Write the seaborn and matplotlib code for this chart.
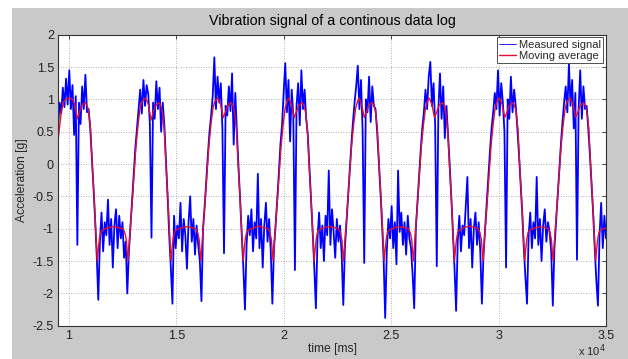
import numpy as np
import pandas as pd
import matplotlib
matplotlib.use("Agg")
import matplotlib.pyplot as plt
from matplotlib.patches import Rectangle
from matplotlib.ticker import FuncFormatter
import seaborn as sns

# ---------------- data ----------------
title = "Vibration signal of a continous data log"
x_label = "time [ms]"
y_label = "Acceleration [g]"
series_names = ["Measured signal", "Moving average"]

# measured signal, sampled every 75 ms starting at 9500 ms
sample_start = 9500
sample_step = 75
measured = [
    # high plateau (partial)
    0.55, 0.95, 0.78, 1.18, 0.88, 1.32, 0.92, 1.45, 0.85, 1.22,
    0.45, 1.05, -1.25, 0.95, 0.62, 1.2, 0.85, 1.38, 0.8, 0.85,
    0.55, 0.1, -0.35, -0.85, -1.4, -2.1,
    # low 1
    -1.2, -0.75, -1.35, -0.9, -1.1, -0.55, -1.25, -0.85, -1.6, -0.95,
    -0.7, -1.3, -0.8, -1.15, -0.9, -1.45, -1.2, -2.0,
    # high 1
    -1.35, -0.95, -0.55, -0.15, 0.25, 0.55, 0.85, 1.15, 0.78, 1.3, 0.9, 1.22,
    1.08, 0.62, -1.14, 0.95, 0.7, 1.28, 0.85, 1.18, 0.5, 0.95,
    0.6, 0.05, -0.5, -1.1, -1.6, -2.16,
    # low 2
    -0.8, -1.3, -0.95, -1.15, -0.6, -1.35, -0.85, -1.1, -1.62, -0.9,
    -0.5, -1.2, -0.85, -1.4, -0.95, -1.25, -1.5, -2.12,
    # high 2
    -1.0, -0.65, -0.25, 0.15, 0.5, 0.75, 1.05,
    1.65, 0.85, 1.35, 0.95, 1.25, 0.55, -1.38, 0.9, 0.75, 1.2, 0.82, 1.4, 0.3, 1.1,
    0.5, -0.05, -0.55, -1.1, -1.6, -2.25,
    # low 3
    -1.25, -0.8, -1.1, -0.7, -1.35, -0.9, -1.15, -0.15, -1.3, -0.85,
    -1.6, -0.95, -0.6, -1.2, -0.85, -1.35, -2.16,
    # high 3
    -1.3, -0.95, -0.55, -0.15, 0.3, 0.6,
    1.1, 1.56, 0.8, 1.3, 0.35, 1.15, 0.75, -1.64, 0.9, 1.25, 0.6, 1.45, 0.85, 1.15, 0.7,
    0.45, -0.05, -0.55, -1.05, -1.6, -2.23,
    # low 4
    -1.15, -0.75, -1.3, -0.95, -1.5, -0.8, -1.1, -0.1, -1.25, -0.7,
    -1.05, -1.45, -0.85, -1.2, -0.95, -1.4, -2.18,
    # high 4
    -1.3, -0.9, -0.5, -0.1, 0.3, 0.65, 0.95,
    1.2, 1.52, 0.85, 1.3, 0.5, -1.53, 1.0, 0.8, 1.35, 0.65, 1.2, 0.9, 0.85,
    0.5, 0.05, -0.4, -0.9, -1.45, -2.38,
    # low 5
    -1.35, -0.85, -1.15, -0.65, -1.3, -0.9, -1.55, -0.1, -1.05, -0.75,
    -1.25, -0.9, -1.4, -0.8, -1.15, -1.3, -1.7, -2.23,
    # high 5
    -1.0, -0.6, -0.2, 0.2, 0.55, 0.8, 1.15,
    0.85, 1.35, 1.58, 0.9, 1.25, 0.6, -1.58, 0.85, 1.4, 0.7, 1.2, 0.4, 0.9,
    0.45, 0.0, -0.5, -1.05, -1.6, -2.27,
    # low 6
    -1.2, -0.8, -1.35, -0.95, -1.1, -0.65, -0.2, -1.3, -0.85, -1.6,
    -1.0, -0.75, -1.25, -0.9, -1.35, -2.16,
    # high 6
    -1.4, -1.0, -0.6, -0.2, 0.2, 0.55, 0.8, 1.1,
    0.85, 1.45, 0.75, 1.25, 0.95, 0.5, -1.6, 1.0, 0.7, 1.35, 0.8, 1.15, 0.9,
    0.55, 0.15, -0.3, -0.75, -1.3, -1.75, -2.16,
    # low 7
    -1.1, -0.75, -1.3, -0.9, -1.15, -0.2, -1.25, -0.85, -1.5, -0.95,
    -0.7, -1.2, -0.9, -1.05, -1.35, -2.19,
    # high 7
    -1.3, -0.9, -0.5, -0.1, 0.3, 0.65, 0.95,
    1.2, 0.8, 1.55, 0.9, 1.3, 0.55, 1.1, -1.48, 0.85, 1.45, 0.7, 1.2, 0.85, 0.9,
    0.55, 0.15, -0.3, -0.75, -1.3, -1.8, -2.19,
    # low 8 (partial)
    -1.1, -0.6, -1.3, -0.8, -1.15,
]

avg_time = [
    9500, 9580, 9660, 9750, 9850, 10000, 10150, 10270, 10400, 10500, 10600, 10770, 10860, 10930, 11010, 11100, 11210, 11280,
    11330, 11380, 11430, 11490, 11610, 11800, 12030, 12260, 12530, 12610, 12680, 12720, 12760,
    12850, 12950, 13040, 13130, 13230, 13320, 13410, 13580, 13700, 13830, 13930, 14030, 14200, 14290, 14360, 14440, 14530, 14640, 14710,
    14760, 14810, 14860, 14920, 15040, 15230, 15460, 15690, 15920, 16000, 16070, 16110, 16150,
    16240, 16340, 16430, 16520, 16620, 16710, 16800, 16940, 17060, 17190, 17290, 17390, 17560, 17650, 17720, 17800, 17890, 18000, 18070,
    18120, 18170, 18220, 18280, 18400, 18590, 18820, 19050, 19280, 19360, 19430, 19470, 19510,
    19600, 19700, 19790, 19880, 19980, 20070, 20160, 20240, 20360, 20490, 20590, 20690, 20860, 20950, 21020, 21100, 21190, 21300, 21370,
    21420, 21470, 21520, 21580, 21700, 21890, 22120, 22350, 22560, 22640, 22710, 22750, 22790,
    22880, 22980, 23070, 23160, 23260, 23350, 23440, 23500, 23620, 23750, 23850, 23950, 24120, 24210, 24280, 24360, 24450, 24560, 24630,
    24680, 24730, 24780, 24840, 24960, 25150, 25380, 25610, 25810, 25890, 25960, 26000, 26040,
    26130, 26230, 26320, 26410, 26510, 26600, 26690, 26770, 26890, 27020, 27120, 27220, 27390, 27480, 27550, 27630, 27720, 27830, 27900,
    27950, 28000, 28050, 28110, 28230, 28420, 28650, 28880, 29050, 29130, 29200, 29240, 29280,
    29370, 29470, 29560, 29650, 29750, 29840, 29930, 30040, 30160, 30290, 30390, 30490, 30660, 30750, 30820, 30900, 30990, 31100, 31170,
    31220, 31270, 31320, 31380, 31500, 31690, 31920, 32150, 32310, 32390, 32460, 32500, 32540,
    32630, 32730, 32820, 32910, 33010, 33100, 33190, 33340, 33460, 33590, 33690, 33790, 33960, 34050, 34120, 34200, 34290, 34400, 34470,
    34520, 34570, 34620, 34680, 34800, 35000,
]
avg_value = [
    0.35, 0.6, 0.82, 0.95, 1.0, 1.02, 1.01, 0.93, 0.70, 0.80, 0.90, 0.95, 0.90, 0.80, 0.55, -0.05, -0.7, -1.2,
    -1.5, -1.3, -1.15, -1.05, -1.01, -0.99, -0.97, -0.98, -1.0, -1.06, -1.17, -1.35, -1.5,
    -1.05, -0.6, -0.15, 0.28, 0.62, 0.86, 0.97, 1.02, 0.93, 0.68, 0.80, 0.90, 0.95, 0.90, 0.80, 0.55, -0.05, -0.7, -1.2,
    -1.5, -1.3, -1.15, -1.05, -1.01, -0.99, -0.97, -0.98, -1.0, -1.06, -1.17, -1.35, -1.5,
    -1.05, -0.6, -0.15, 0.28, 0.62, 0.86, 0.97, 1.02, 0.93, 0.72, 0.80, 0.90, 0.95, 0.90, 0.80, 0.55, -0.05, -0.7, -1.2,
    -1.5, -1.3, -1.15, -1.05, -1.01, -0.99, -0.96, -0.98, -1.0, -1.06, -1.17, -1.35, -1.5,
    -1.05, -0.6, -0.15, 0.28, 0.62, 0.86, 0.97, 1.02, 0.93, 0.72, 0.80, 0.90, 0.95, 0.90, 0.80, 0.55, -0.05, -0.7, -1.2,
    -1.5, -1.3, -1.15, -1.05, -1.01, -0.98, -0.97, -0.98, -1.0, -1.06, -1.17, -1.35, -1.5,
    -1.05, -0.6, -0.15, 0.28, 0.62, 0.86, 0.97, 1.02, 0.93, 0.72, 0.80, 0.90, 0.95, 0.90, 0.80, 0.55, -0.05, -0.7, -1.2,
    -1.5, -1.3, -1.15, -1.05, -1.01, -0.99, -0.97, -0.98, -1.0, -1.06, -1.17, -1.35, -1.5,
    -1.05, -0.6, -0.15, 0.28, 0.62, 0.86, 0.97, 1.02, 0.93, 0.72, 0.80, 0.90, 0.95, 0.90, 0.80, 0.55, -0.05, -0.7, -1.2,
    -1.5, -1.3, -1.15, -1.05, -1.01, -0.98, -0.96, -0.98, -1.0, -1.06, -1.17, -1.35, -1.5,
    -1.05, -0.6, -0.15, 0.28, 0.62, 0.86, 0.97, 1.02, 0.93, 0.72, 0.80, 0.90, 0.95, 0.90, 0.80, 0.55, -0.05, -0.7, -1.2,
    -1.5, -1.3, -1.15, -1.05, -1.01, -0.99, -0.97, -0.98, -1.0, -1.06, -1.17, -1.35, -1.5,
    -1.05, -0.6, -0.15, 0.28, 0.62, 0.86, 0.97, 1.02, 0.93, 0.72, 0.80, 0.90, 0.95, 0.90, 0.80, 0.55, -0.05, -0.7, -1.2,
    -1.5, -1.3, -1.15, -1.05, -1.01, -0.99,
]

x_ticks = [10000, 15000, 20000, 25000, 30000, 35000]
y_ticks = [-2.5, -2, -1.5, -1, -0.5, 0, 0.5, 1, 1.5, 2]

# ---------------- figure ----------------
sns.set_style("white")
plt.rcParams["font.family"] = ["Liberation Sans", "DejaVu Sans"]

W, H = 628, 359
fig = plt.figure(figsize=(W / 100, H / 100), dpi=100)
fig.patch.set_facecolor("white")
fig.add_artist(Rectangle((12 / W, 0), 1 - 12 / W, 1 - 8 / H,
                         transform=fig.transFigure, facecolor="#c9c9c9",
                         edgecolor="none", zorder=-10))

ax = fig.add_axes([58 / W, 1 - 325.7 / H, (606 - 58) / W, (325.7 - 34.7) / H])
ax.set_facecolor("white")

meas_df = pd.DataFrame({
    "time": sample_start + sample_step * np.arange(len(measured)),
    "acc": measured,
})
avg_df = pd.DataFrame({"time": avg_time, "acc": avg_value})

sns.lineplot(data=meas_df, x="time", y="acc", ax=ax, color="#0000ff",
             linewidth=1.3, estimator=None, sort=False, label=series_names[0])
sns.lineplot(data=avg_df, x="time", y="acc", ax=ax, color="#e01030",
             linewidth=1.0, estimator=None, sort=False, label=series_names[1])

ax.set_xlim(9500, 35000)
ax.set_ylim(-2.5, 2)
ax.set_xticks(x_ticks)
ax.set_yticks(y_ticks)
ax.xaxis.set_major_formatter(FuncFormatter(lambda v, _: f"{v / 1e4:g}"))
ax.yaxis.set_major_formatter(FuncFormatter(lambda v, _: f"{v:g}"))

ax.grid(True, linestyle=(0, (1, 2)), color="#9a9a9a", linewidth=0.6)
ax.set_axisbelow(True)
for s in ax.spines.values():
    s.set_color("#333333")
    s.set_linewidth(0.8)
ax.tick_params(direction="in", length=3, width=0.6, labelsize=9,
               top=True, right=True, colors="#222222", pad=3)

ax.set_title(title, fontsize=10.3, pad=7, color="black")
ax.set_xlabel(x_label, fontsize=8.7, labelpad=1)
ax.set_ylabel(y_label, fontsize=8.7, labelpad=3)
ax.text(1.0, -0.058, r"x 10$^{4}$", transform=ax.transAxes, ha="right",
        va="top", fontsize=8)

leg = ax.legend(loc="upper right", fontsize=8, frameon=True, fancybox=False,
                framealpha=1, edgecolor="#333333", borderpad=0.2,
                labelspacing=0.1, handlelength=1.5, handletextpad=0.3,
                borderaxespad=0.25)
leg.get_frame().set_linewidth(0.6)
for h in leg.get_lines()[:1]:
    h.set_linewidth(0.6)

fig.savefig("out.png", dpi=100, facecolor=fig.get_facecolor())
